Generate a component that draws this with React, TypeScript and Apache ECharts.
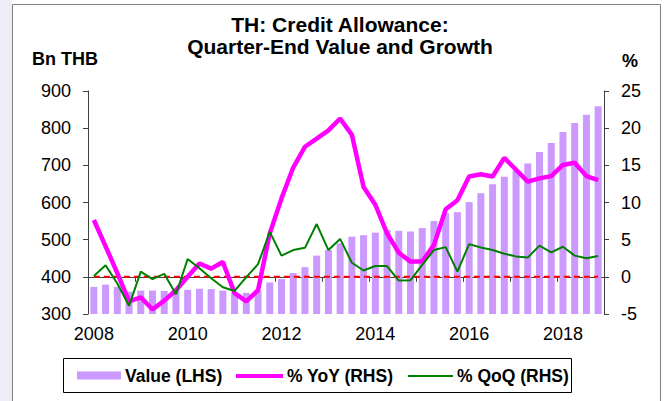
import React, { useEffect, useRef } from 'react';
import * as echarts from 'echarts';

const years = ['2008', '2009', '2010', '2011', '2012', '2013', '2014', '2015', '2016', '2017', '2018'];
const quarterNames = ['Q1', 'Q2', 'Q3', 'Q4'];
const categories: string[] = years.flatMap((y) => quarterNames.map((q) => y + q));

const valueLHS = [
  373, 379, 373, 360, 363, 363, 362, 365, 365, 368, 367, 363, 357, 357, 363, 385, 394, 410, 426, 457, 472, 490,
  508, 512, 519, 526, 524, 522, 531, 550, 572, 574, 601, 625, 649, 669, 686, 705, 736, 760, 790, 814, 836, 859,
];
const yoyRHS = [
  7.65, 4.1, 0.5, -3.3, -2.75, -4.4, -3.2, -1.8, 0.0, 1.8, 1.1, 2.0, -2.2, -3.3, -1.8, 5.85, 10.55, 14.7, 17.5,
  18.6, 19.7, 21.3, 19.1, 12.1, 9.7, 5.85, 3.25, 2.05, 2.05, 4.3, 9.1, 10.3, 13.5, 13.8, 13.5, 16.0, 14.4, 12.8,
  13.25, 13.55, 15.05, 15.35, 13.55, 13.0,
];
const qoqRHS = [
  0.1, 1.55, -0.9, -3.9, 0.7, -0.3, 0.4, -2.35, 2.4, 1.15, -0.2, -1.4, -1.9, -0.05, 1.7, 6.05, 2.85, 3.6, 3.9,
  7.1, 3.6, 5.1, 1.9, 0.85, 1.45, 1.45, -0.5, -0.45, 1.6, 3.6, 4.0, 0.7, 4.4, 3.95, 3.6, 3.1, 2.75, 2.6, 4.2,
  3.3, 4.05, 2.85, 2.5, 2.8,
];
const zeroRef = categories.map(() => 0);

const titleLines = ['TH: Credit Allowance:', 'Quarter-End Value and Growth'];
const leftUnit = 'Bn THB';
const rightUnit = '%';
const legendNames = ['Value (LHS)', '% YoY (RHS)', '% QoQ (RHS)'];

const FONT = '"Liberation Sans", Arial, Helvetica, sans-serif';
const AXIS_COLOR = '#404040';
const BAR_COLOR = '#cc99ff';
const PINK = '#ff00ff';
const GREEN = '#008000';
const RED = '#ff0000';

export default function App() {
  const ref = useRef<HTMLDivElement>(null);

  useEffect(() => {
    if (!ref.current) return;
    const chart = echarts.init(ref.current, undefined, { renderer: 'svg' });
    const legendY = 375.5;
    chart.setOption({
      animation: false,
      backgroundColor: '#ffffff',
      grid: { left: 88, right: 63, top: 91, bottom: 87, containLabel: false },
      xAxis: {
        type: 'category',
        data: categories,
        boundaryGap: true,
        axisLine: { show: true, lineStyle: { color: AXIS_COLOR, width: 1 } },
        axisTick: { show: true, interval: 3, length: 5, inside: false, lineStyle: { color: AXIS_COLOR } },
        axisLabel: {
          interval: 7,
          margin: 11,
          color: '#000',
          fontFamily: FONT,
          fontSize: 18,
          formatter: (v: string) => v.slice(0, 4),
        },
        splitLine: { show: false },
      },
      yAxis: [
        {
          type: 'value',
          min: 300,
          max: 900,
          interval: 100,
          position: 'left',
          axisLine: { show: true, lineStyle: { color: AXIS_COLOR, width: 1 } },
          axisTick: { show: true, length: 5, lineStyle: { color: AXIS_COLOR } },
          axisLabel: { margin: 17, color: '#000', fontFamily: FONT, fontSize: 18 },
          splitLine: { show: false },
        },
        {
          type: 'value',
          min: -5,
          max: 25,
          interval: 5,
          position: 'right',
          axisLine: { show: true, lineStyle: { color: AXIS_COLOR, width: 1 } },
          axisTick: { show: true, length: 5, lineStyle: { color: AXIS_COLOR } },
          axisLabel: { margin: 17, color: '#000', fontFamily: FONT, fontSize: 18 },
          splitLine: { show: false },
        },
      ],
      series: [
        {
          name: legendNames[0],
          type: 'bar',
          yAxisIndex: 0,
          data: valueLHS,
          barWidth: 7,
          itemStyle: { color: BAR_COLOR },
          z: 1,
        },
        {
          name: 'zero',
          type: 'line',
          yAxisIndex: 1,
          data: zeroRef,
          symbol: 'none',
          lineStyle: { color: RED, width: 2, type: [6, 4] },
          z: 2,
          silent: true,
        },
        {
          name: legendNames[1],
          type: 'line',
          yAxisIndex: 1,
          data: yoyRHS,
          symbol: 'none',
          lineStyle: { color: PINK, width: 4.5 },
          z: 3,
        },
        {
          name: legendNames[2],
          type: 'line',
          yAxisIndex: 1,
          data: qoqRHS,
          symbol: 'none',
          lineStyle: { color: GREEN, width: 2 },
          z: 4,
        },
      ],
      graphic: [
        { type: 'rect', shape: { x: 0, y: 0, width: 12, height: 401 }, style: { fill: '#eeeef6' }, silent: true, z: -10 },
        {
          type: 'rect',
          shape: { x: 12.5, y: 4.5, width: 648, height: 410 },
          style: { fill: 'none', stroke: '#808080', lineWidth: 1 },
          silent: true,
          z: -5,
        },
        {
          type: 'text',
          x: 340,
          y: 14,
          style: {
            text: titleLines.join('\n'),
            textAlign: 'center',
            textVerticalAlign: 'top',
            font: `bold 21px ${FONT}`,
            lineHeight: 21.5,
            fill: '#000',
          },
        },
        {
          type: 'text',
          x: 32,
          y: 58.5,
          style: { text: leftUnit, textVerticalAlign: 'middle', font: `bold 18px ${FONT}`, fill: '#000' },
        },
        {
          type: 'text',
          x: 622,
          y: 61,
          style: { text: rightUnit, textVerticalAlign: 'middle', font: `bold 18px ${FONT}`, fill: '#000' },
        },
        {
          type: 'rect',
          shape: { x: 63.5, y: 358.5, width: 508, height: 34 },
          style: { fill: '#fff', stroke: '#000', lineWidth: 1 },
        },
        {
          type: 'rect',
          shape: { x: 77, y: 371.5, width: 44, height: 8 },
          style: { fill: BAR_COLOR },
        },
        {
          type: 'text',
          x: 125,
          y: legendY,
          style: { text: legendNames[0], textVerticalAlign: 'middle', font: `bold 17.5px ${FONT}`, fill: '#000' },
        },
        {
          type: 'line',
          shape: { x1: 236, y1: legendY + 0.5, x2: 283, y2: legendY + 0.5 },
          style: { stroke: PINK, lineWidth: 4 },
        },
        {
          type: 'text',
          x: 287,
          y: legendY,
          style: { text: legendNames[1], textVerticalAlign: 'middle', font: `bold 17.5px ${FONT}`, fill: '#000' },
        },
        {
          type: 'line',
          shape: { x1: 408, y1: legendY + 0.5, x2: 453, y2: legendY + 0.5 },
          style: { stroke: GREEN, lineWidth: 2 },
        },
        {
          type: 'text',
          x: 457,
          y: legendY,
          style: { text: legendNames[2], textVerticalAlign: 'middle', font: `bold 17.5px ${FONT}`, fill: '#000' },
        },
      ],
    });
    return () => chart.dispose();
  }, []);

  return (
    <div
      ref={ref}
      style={{ position: 'fixed', left: 0, top: 0, width: 667, height: 401 }}
    />
  );
}
